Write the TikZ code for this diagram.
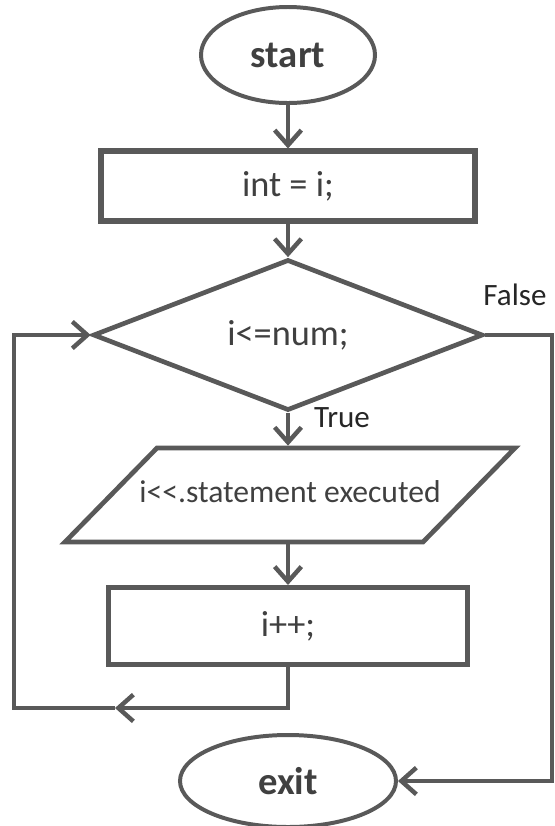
\documentclass[tikz,border=0pt]{standalone}
\usepackage{fontspec}
\setmainfont{Carlito}[Ligatures=TeXOff]
\usetikzlibrary{shapes.geometric,arrows.meta}
\definecolor{linegray}{RGB}{89,89,89}
\definecolor{textgray}{RGB}{64,64,64}

\begin{document}
\begin{tikzpicture}[x=0.03cm,y=-0.03cm,
	term/.style={ellipse,draw=linegray,line width=3.4pt,inner sep=0pt,text=textgray,font=\fontsize{33}{38}\selectfont\bfseries},
	proc/.style={rectangle,draw=linegray,line width=4.3pt,inner sep=0pt,text=textgray,font=\fontsize{31}{36}\selectfont},
	cond/.style={diamond,draw=linegray,line width=4pt,inner sep=0pt,minimum width=11.7cm,minimum height=4.26cm,text=textgray,font=\fontsize{31}{36}\selectfont},
	io/.style={trapezium,trapezium left angle=45.6,trapezium right angle=134.4,draw=linegray,line width=4pt,inner xsep=0pt,inner ysep=1cm,text height=0.62cm,text depth=0.2cm,text=textgray,font=\fontsize{27}{32}\selectfont},
	lbl/.style={text=black!85,font=\fontsize{26.5}{30}\selectfont},
	arr/.style={draw=linegray,line width=3.8pt,-{Straight Barb[length=0.45cm,width=0.8cm]}}]

	\useasboundingbox (0,0) rectangle (555,826);

	\node[term,minimum width=5.22cm,minimum height=2.88cm] (start) at (288,55)  {start};
	\node[proc,minimum width=11.22cm,minimum height=2.1cm] (init)  at (288,186) {int = i;};
	\node[cond] (test) at (288,335) {i<=num;};
	\node[io]   (body) at (290,495) {\makebox[7.98cm]{i<<.statement executed}};
	\node[proc,minimum width=10.77cm,minimum height=2.31cm] (incr)  at (288,626) {i++;};
	\node[term,minimum width=6.48cm,minimum height=2.76cm]  (exit)  at (288,781) {exit};

	\node[lbl] (fls) at (515,295) {False};
	\node[lbl] (tru) at (342,418) {True};

	\coordinate (lb) at (14,708);
	\coordinate (lm) at (115,708);
	\coordinate (rt) at (552,335);
	\coordinate (rb) at (552,781);

	\draw[arr] (start) -- (init);
	\draw[arr] (init) -- (test);
	\draw[arr] (test) -- (test |- body.north);
	\draw[arr] (body.south -| incr) -- (incr);
	\draw[arr] (incr.south) |- (lm);
	\draw[arr] (lm) -- (lb) |- (test.west);
	\draw[arr] (test.east) -- (rt) -- (rb) -- (exit.east);
\end{tikzpicture}
\end{document}
